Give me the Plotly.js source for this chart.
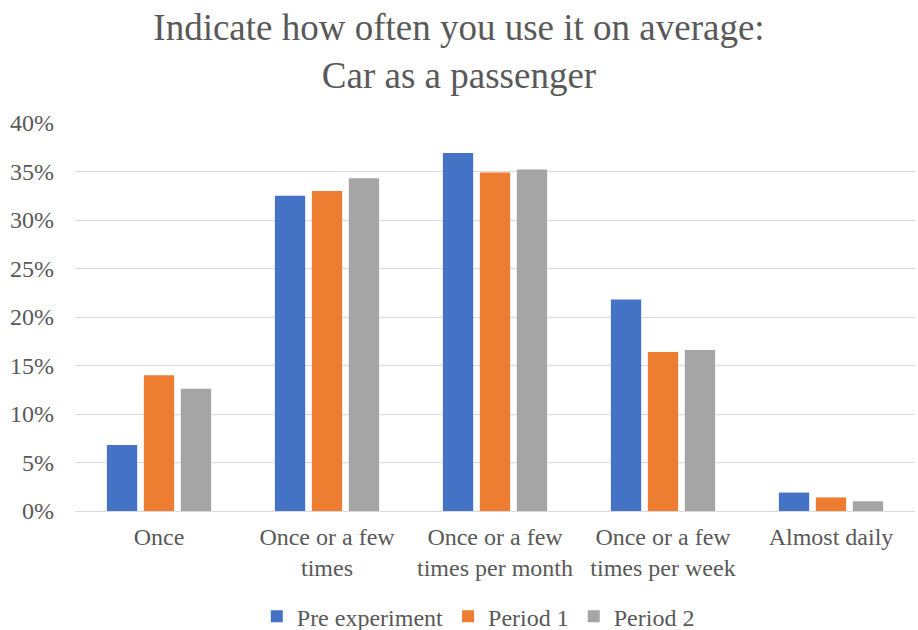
<!DOCTYPE html>
<html>
<head>
<meta charset="utf-8">
<script src="https://cdn.plot.ly/plotly-3.0.1.min.js"></script>
<style>
  html, body { margin: 0; padding: 0; background: #fff; }
  #chart { width: 918px; height: 630px; }
</style>
</head>
<body>
<div id="chart"></div>
<script>
// Frequency categories along the x axis
const categories = [
  'Once',
  'Once or a few<br>times',
  'Once or a few<br>times per month',
  'Once or a few<br>times per week',
  'Almost daily'
];

// Share of respondents per period (fractions)
const preExperiment = [0.068, 0.325, 0.369, 0.218, 0.019];
const period1       = [0.140, 0.330, 0.349, 0.164, 0.014];
const period2       = [0.126, 0.343, 0.352, 0.166, 0.010];

const seriesNames = ['Pre experiment', 'Period 1', 'Period 2'];
const seriesColors = ['#4472C4', '#ED7D31', '#A5A5A5'];

const yTickVals = [0, 0.05, 0.10, 0.15, 0.20, 0.25, 0.30, 0.35, 0.40];

const font = 'Times New Roman, Liberation Serif, serif';
const grey = '#595959';

const traces = [preExperiment, period1, period2].map((vals, i) => ({
  type: 'bar',
  name: seriesNames[i],
  x: categories,
  y: vals,
  marker: { color: seriesColors[i] },
  hoverinfo: 'skip'
}));

const layout = {
  width: 918,
  height: 630,
  paper_bgcolor: '#ffffff',
  plot_bgcolor: '#ffffff',
  margin: { l: 75, r: 3, t: 123, b: 119 },
  font: { family: font, color: grey, size: 24 },
  title: {
    text: 'Indicate how often you use it on average:<br>Car as a passenger',
    font: { family: font, size: 37, color: grey },
    x: 0.5,
    xanchor: 'center',
    yref: 'container',
    y: 0.937,
    yanchor: 'middle'
  },
  barmode: 'group',
  bargap: 0.34,
  bargroupgap: 0.18,
  xaxis: {
    type: 'category',
    showgrid: false,
    showline: false,
    zeroline: false,
    ticks: '',
    ticklabelstandoff: 9,
    tickfont: { family: font, size: 24, color: grey }
  },
  yaxis: {
    range: [0, 0.4],
    tickvals: yTickVals,
    tickformat: '.0%',
    showgrid: true,
    gridcolor: '#d9d9d9',
    gridwidth: 1,
    zeroline: true,
    zerolinecolor: '#d9d9d9',
    zerolinewidth: 1,
    showline: false,
    ticks: '',
    ticklabelstandoff: 20,
    tickfont: { family: font, size: 24, color: grey }
  },
  showlegend: true,
  legend: {
    orientation: 'h',
    x: 0.521,
    xanchor: 'center',
    xref: 'container',
    yref: 'container',
    y: 0.021,
    yanchor: 'middle',
    font: { family: font, size: 24, color: grey },
    itemwidth: 30,
    traceorder: 'normal'
  }
};

Plotly.newPlot('chart', traces, layout, { displayModeBar: false, staticPlot: true });
</script>
</body>
</html>
